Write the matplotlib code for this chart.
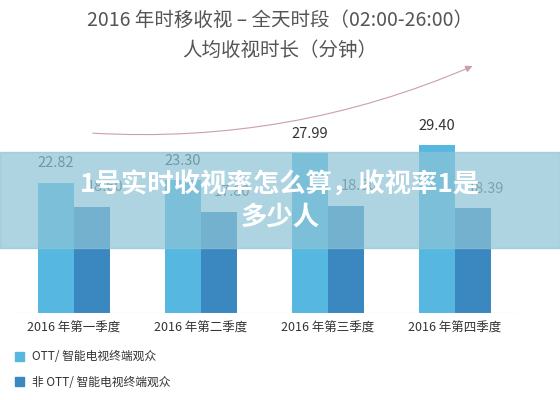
import matplotlib
matplotlib.use("Agg")
import matplotlib.pyplot as plt
import numpy as np
from matplotlib.patches import FancyArrowPatch, Rectangle

plt.rcParams['font.family'] = ['Noto Sans CJK SC', 'DejaVu Sans']

categories = ["2016 年第一季度", "2016 年第二季度", "2016 年第三季度", "2016 年第四季度"]
ott = [22.82, 23.30, 27.99, 29.40]
non_ott = [18.60, 17.80, 18.80, 18.39]
series_names = ["OTT/ 智能电视终端观众", "非 OTT/ 智能电视终端观众"]
title1 = "2016 年时移收视 – 全天时段（02:00-26:00）"
title2 = "人均收视时长（分钟）"
overlay = "1号实时收视率怎么算，收视率1是\n多少人"

c_ott = "#56b8e0"
c_non = "#3b87c0"

fig = plt.figure(figsize=(5.6, 4.0), dpi=100)
ax = fig.add_axes([10.5/560, 87/400, 508/560, 199.5/400])
x = np.arange(len(categories))
w = 36/127
ax.bar(x - w/2, ott, width=w, color=c_ott)
ax.bar(x + w/2, non_ott, width=w, color=c_non)
for xi, v in zip(x, ott):
    ax.text(xi - w/2, v + 2.2, f"{v:.2f}", ha="center", va="bottom", fontsize=10.5, color="#333")
for xi, v in zip(x, non_ott):
    ax.text(xi + w/2 + 0.1, v + 2.2, f"{v:.2f}", ha="center", va="bottom", fontsize=10.5, color="#555")
ax.set_xlim(-0.5, 3.5)
ax.set_ylim(0, 35)
ax.axis("off")
ax.axhline(0, color="#cccccc", lw=0.8)
for xi, c in zip(x, categories):
    ax.text(xi, -1.5, c, ha="center", va="top", fontsize=9, color="#333")

fig.text(0.5, 1 - 20/400, title1, ha="center", va="center", fontsize=14, color="#555")
fig.text(0.5, 1 - 50/400, title2, ha="center", va="center", fontsize=14, color="#555")

arr = FancyArrowPatch((90/560, 1 - 133/400), (475/560, 1 - 65/400), transform=fig.transFigure,
                      connectionstyle="arc3,rad=0.12", arrowstyle="-|>,head_length=4,head_width=2",
                      color="#c9a0a8", lw=0.8)
fig.patches.append(arr)

for i, (name, col) in enumerate(zip(series_names, [c_ott, c_non])):
    yy = 1 - (357 + 25*i)/400
    fig.patches.append(Rectangle((15/560, yy - 4/400), 9/560, 9/400, transform=fig.transFigure, color=col))
    fig.text(32/560, yy, name, ha="left", va="center", fontsize=8.5, color="#333")

fig.patches.append(Rectangle((0, 1 - 248/400), 1, 96/400, transform=fig.transFigure,
                             color="#8cc3d6", alpha=0.7, zorder=5))
fig.text(0.5, 1 - 201/400, overlay, ha="center", va="center", fontsize=19, fontweight="bold",
         color="white", linespacing=1.25, zorder=6)

fig.savefig("out.png", dpi=100)
